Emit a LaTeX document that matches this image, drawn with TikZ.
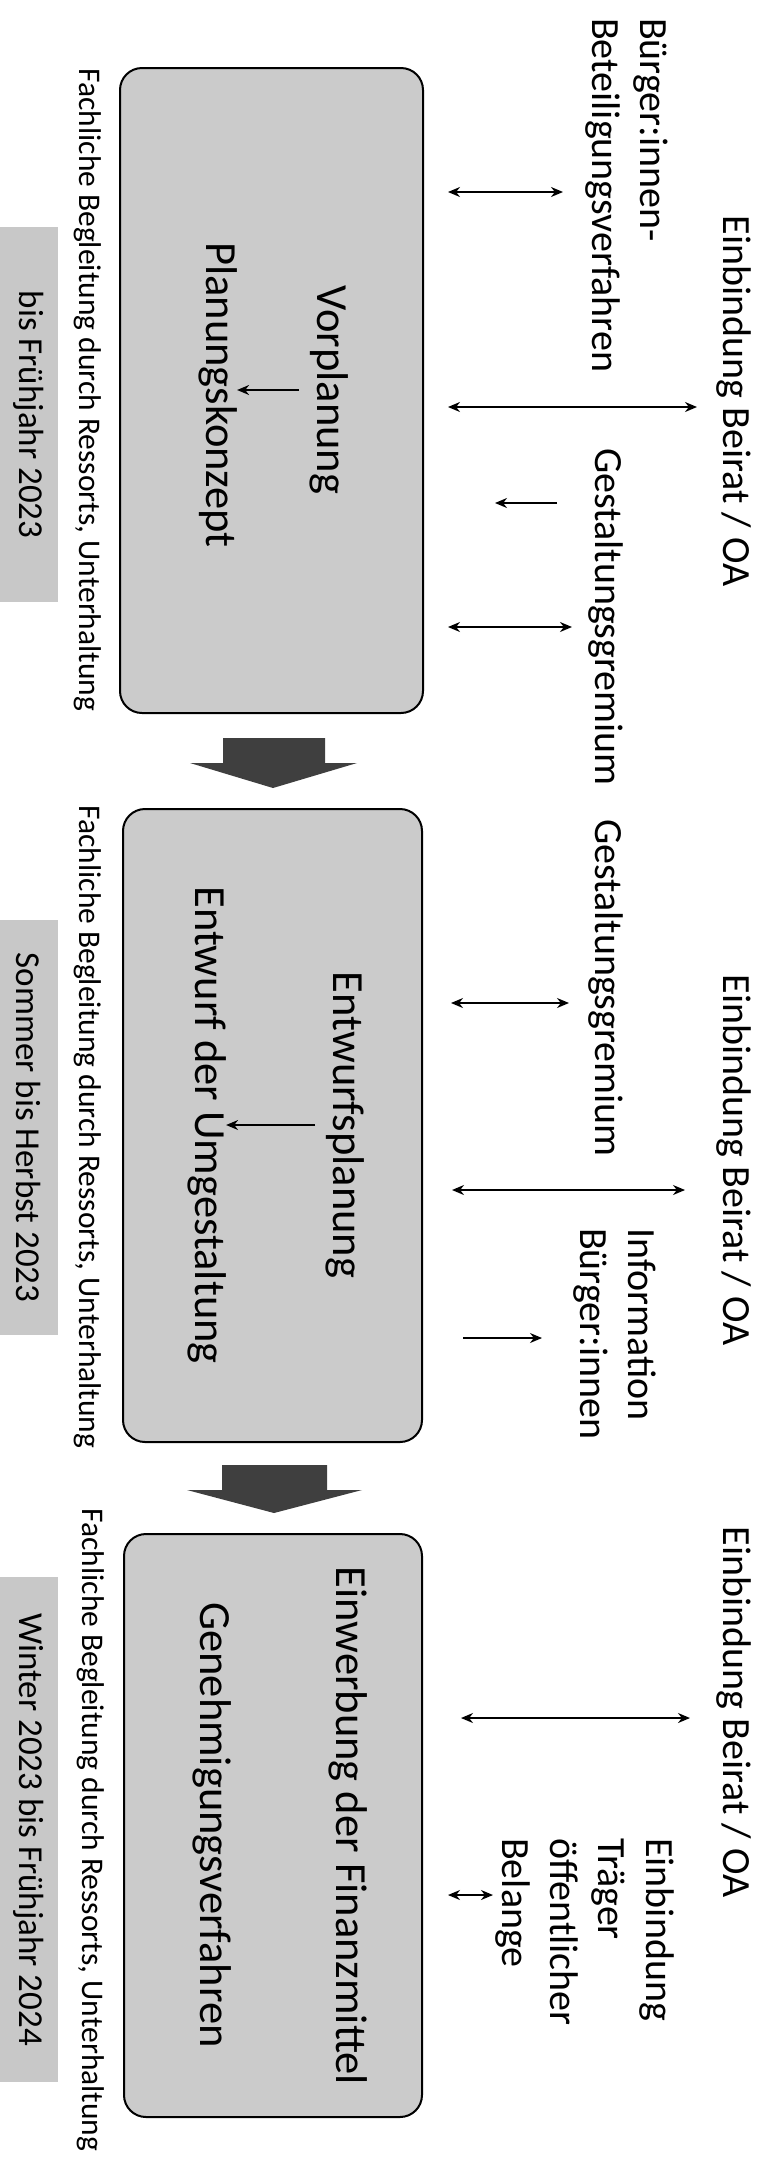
\documentclass[tikz,border=0pt]{standalone}
\usepackage{fontspec}
\setmainfont{Carlito}
\usetikzlibrary{arrows.meta}
\definecolor{stagefill}{HTML}{CBCBCB}
\definecolor{datefill}{HTML}{C8C8C8}
\definecolor{arrowgray}{HTML}{3F3F3F}
\tikzset{
  stagebox/.style={draw, line width=2pt, fill=stagefill, rounded corners=22pt},
  steplabel/.style={rotate=-90, inner sep=0pt, anchor=base, font=\fontsize{44.5}{53}\selectfont},
  sidelabel/.style={rotate=-90, inner sep=0pt, align=left, font=\fontsize{40}{48}\selectfont},
  notelabel/.style={rotate=-90, inner sep=0pt, anchor=base, font=\fontsize{31.5}{38}\selectfont},
  datebox/.style={rotate=-90, fill=datefill, inner sep=0pt, minimum height=58pt, font=\fontsize{35}{42}\selectfont},
  twoway/.style={{Stealth[length=12pt,width=10pt]}-{Stealth[length=12pt,width=10pt]}, line width=1.6pt},
  oneway/.style={-{Stealth[length=12pt,width=10pt]}, line width=1.6pt},
  bigarrow/.style={fill=arrowgray}
}
\begin{document}
\begin{tikzpicture}[x=1pt,y=-1pt]
        \useasboundingbox (0,0) rectangle (766,2172);
        % Phasen
        \node[stagebox, minimum width=303pt, minimum height=645pt] (stage1) at (271.5,390.5) {};
        \node[stagebox, minimum width=299pt, minimum height=633pt] (stage2) at (272.5,1125.5) {};
        \node[stagebox, minimum width=298pt, minimum height=583pt] (stage3) at (273,1825.5) {};
        \node[steplabel] (vp) at (317,390) {Vorplanung};
        \node[steplabel] (pk) at (206,395) {Planungskonzept};
        \node[steplabel] (ep) at (333,1125) {Entwurfsplanung};
        \node[steplabel] (eu) at (195,1125) {Entwurf der Umgestaltung};
        \node[steplabel] (ef) at (336,1826) {Einwerbung der Finanzmittel};
        \node[steplabel] (gv) at (200,1825) {Genehmigungsverfahren};
        \draw[oneway, shorten <=10pt] (vp.south) -- (vp.south -| pk.north);
        \draw[oneway, shorten <=10pt] (ep.south) -- (ep.south -| eu.north);
        % Uebergaenge
        \fill[bigarrow] (223,738) -- (325,738) -- (325,763) -- (357,763) -- (273,788) -- (190,763) -- (223,763) -- cycle;
        \fill[bigarrow] (222,1465) -- (327,1465) -- (327,1490) -- (362,1490) -- (274,1513) -- (187,1490) -- (222,1490) -- cycle;
        % Begleitung und Zeitraum
        \node[notelabel] (fb1) at (79,390) {Fachliche Begleitung durch Ressorts, Unterhaltung};
        \node[notelabel] (fb2) at (79,1127) {Fachliche Begleitung durch Ressorts, Unterhaltung};
        \node[notelabel] (fb3) at (82,1830) {Fachliche Begleitung durch Ressorts, Unterhaltung};
        \node[datebox, minimum width=375pt] (date1) at (29,414.5) {bis Frühjahr 2023};
        \node[datebox, minimum width=415pt] (date2) at (29,1127.5) {Sommer bis Herbst 2023};
        \node[datebox, minimum width=505pt] (date3) at (29,1829.5) {Winter 2023 bis Frühjahr 2024};
        % Beteiligte
        \node[sidelabel, anchor=base] (br1) at (723,401) {Einbindung Beirat / OA};
        \node[sidelabel, anchor=base] (br2) at (723,1160) {Einbindung Beirat / OA};
        \node[sidelabel, anchor=base] (br3) at (723,1712) {Einbindung Beirat / OA};
        \node[sidelabel, anchor=north west] (bv) at (668,18) {Bürger:innen-\\Beteiligungsverfahren};
        \node[sidelabel, anchor=base] (gg1) at (595,617) {Gestaltungsgremium};
        \node[sidelabel, anchor=base] (gg2) at (595,988) {Gestaltungsgremium};
        \node[sidelabel, anchor=north west] (ib) at (656,1228) {Information\\Bürger:innen};
        \node[sidelabel, anchor=north west] (tb) at (674,1838) {Einbindung\\Träger\\öffentlicher\\Belange};
        % Pfeile Phase 1
        \coordinate (a1) at (448,192);  \coordinate (a1e) at (563,192);
        \coordinate (a2) at (448,407);  \coordinate (a2e) at (697,407);
        \coordinate (a3) at (557,503);  \coordinate (a3e) at (495,503);
        \coordinate (a4) at (448,627);  \coordinate (a4e) at (572,627);
        \draw[twoway] (a1) -- (a1e);
        \draw[twoway] (a2) -- (a2e);
        \draw[oneway] (a3) -- (a3e);
        \draw[twoway] (a4) -- (a4e);
        % Pfeile Phase 2
        \coordinate (b1) at (451,1003); \coordinate (b1e) at (569,1003);
        \coordinate (b2) at (452,1190); \coordinate (b2e) at (685,1190);
        \coordinate (b3) at (463,1338); \coordinate (b3e) at (542,1338);
        \draw[twoway] (b1) -- (b1e);
        \draw[twoway] (b2) -- (b2e);
        \draw[oneway] (b3) -- (b3e);
        % Pfeile Phase 3
        \coordinate (c1) at (461,1718); \coordinate (c1e) at (690,1718);
        \coordinate (c2) at (448,1895); \coordinate (c2e) at (493,1895);
        \draw[twoway] (c1) -- (c1e);
        \draw[twoway] (c2) -- (c2e);
    \end{tikzpicture}
\end{document}
